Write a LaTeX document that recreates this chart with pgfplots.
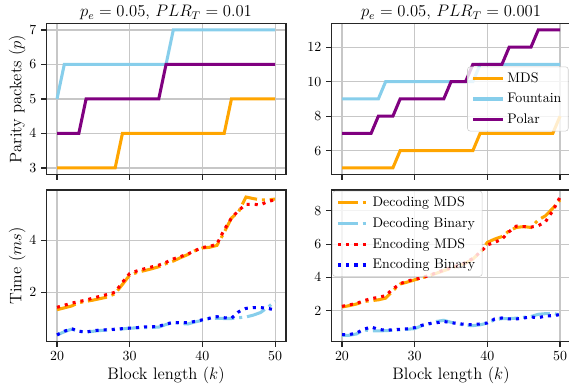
\documentclass[border=0pt]{standalone}
\usepackage{pgfplots}
\pgfplotsset{compat=1.18}
\definecolor{mdsorange}{RGB}{255,165,0}
\definecolor{skyblue}{RGB}{135,206,235}
\definecolor{mplpurple}{RGB}{128,0,128}
\definecolor{mplred}{RGB}{255,0,0}
\definecolor{mplblue}{RGB}{0,0,255}
\pgfplotsset{
  panel/.style={
    scale only axis, width=172.7pt,
    xmin=18.5, xmax=51.5, xtick={20,30,40,50},
    grid=major, grid style={black!22, line width=0.8pt},
    axis line style={black!85, line width=0.8pt},
    tick align=outside, major tick length=3.5pt,
    tick style={black!85, line width=0.8pt},
    tick pos=left,
    ticklabel style={font=\fontsize{10}{12}\selectfont},
    label style={font=\fontsize{12}{14}\selectfont},
    every axis title shift=0pt,
    title style={font=\fontsize{12}{14}\selectfont, at={(axis description cs:0.5,1.042)}, anchor=base, yshift=0pt},
    ylabel style={at={(axis description cs:-0.1031,0.5)}, anchor=base},
    xlabel style={at={(axis description cs:0.5,-0.2459)}, anchor=base},
    every axis plot/.append style={line width=2.2pt},
    legend cell align=left,
    legend style={draw=black!20, rounded corners=2pt, fill=white, fill opacity=0.8,
      text opacity=1, font=\fontsize{10}{12}\selectfont, row sep=2.5pt,
      inner xsep=3pt, inner ysep=2pt},
    legend image code/.code={\draw[#1] (0pt,0pt) -- (21.6pt,0pt);},
  },
  dashdot/.style={dash pattern=on 14pt off 3.5pt on 2.2pt off 3.5pt, line cap=butt},
  dotty/.style={dash pattern=on 2.2pt off 3.63pt, line cap=butt},
}
\begin{document}
\begin{tikzpicture}
% top-left
\begin{axis}[panel, height=109.3pt, at={(33.2pt,-16.6pt)}, anchor=north west,
  title={$p_e = 0.05$, $PLR_T = 0.01$}, ylabel={Parity packets ($p$)},
  xticklabels={}, ymin=2.8, ymax=7.2, ytick={3,4,5,6,7}]
\addplot[mdsorange] coordinates {(20,3)(28,3)(29,4)(43,4)(44,5)(50,5)};
\addplot[skyblue] coordinates {(20,5)(21,6)(35,6)(36,7)(50,7)};
\addplot[mplpurple] coordinates {(20,4)(23,4)(24,5)(34,5)(35,6)(50,6)};
\end{axis}
% top-right
\begin{axis}[panel, height=109.3pt, at={(238.4pt,-16.6pt)}, anchor=north west,
  title={$p_e = 0.05$, $PLR_T = 0.001$},
  xticklabels={}, ymin=4.6, ymax=13.4, ytick={6,8,10,12},
  legend style={at={(0.99,0.5)}, anchor=east}]
\addplot[mdsorange] coordinates {(20,5)(27,5)(28,6)(38,6)(39,7)(49,7)(50,8)};
\addplot[skyblue] coordinates {(20,9)(25,9)(26,10)(38,10)(39,11)(50,11)};
\addplot[mplpurple] coordinates {(20,7)(24,7)(25,8)(27,8)(28,9)(34,9)(35,10)(37,10)(38,11)(42,11)(43,12)(46,12)(47,13)(50,13)};
\legend{MDS,Fountain,Polar}
\end{axis}
% bottom-left
\begin{axis}[panel, height=109.4pt, at={(33.2pt,-136.8pt)}, anchor=north west,
  ylabel={Time ($ms$)}, xlabel={Block length ($k$)},
  ymin=0.09, ymax=5.93, ytick={2,4}]
\addplot[mdsorange, dashdot] coordinates {(20,1.33)(21,1.40)(22,1.47)(23,1.60)(24,1.65)(25,1.70)(26,1.76)(27,1.82)(28,1.95)(29,2.30)(30,2.66)(31,2.76)(32,2.83)(33,2.90)(34,2.98)(35,3.10)(36,3.20)(37,3.33)(38,3.45)(39,3.60)(40,3.70)(41,3.73)(42,3.80)(43,4.30)(44,4.85)(45,5.10)(46,5.66)(47,5.60)(48,5.55)(49,5.55)(50,5.58)};
\addplot[skyblue, dashdot] coordinates {(20,0.36)(21,0.48)(22,0.58)(23,0.50)(24,0.47)(25,0.50)(26,0.53)(27,0.55)(28,0.57)(29,0.59)(30,0.62)(31,0.63)(32,0.64)(33,0.65)(34,0.66)(35,0.76)(36,0.84)(37,0.80)(38,0.78)(39,0.86)(40,0.92)(41,1.00)(42,1.00)(43,0.99)(44,0.99)(45,1.02)(46,1.05)(47,1.12)(48,1.22)(49,1.42)(50,1.65)};
\addplot[mplred, dotty] coordinates {(20,1.42)(21,1.50)(22,1.58)(23,1.64)(24,1.70)(25,1.78)(26,1.85)(27,1.92)(28,2.00)(29,2.38)(30,2.72)(31,2.82)(32,2.90)(33,2.97)(34,3.04)(35,3.15)(36,3.28)(37,3.37)(38,3.47)(39,3.60)(40,3.72)(41,3.76)(42,3.85)(43,4.40)(44,4.85)(45,5.15)(46,5.38)(47,5.38)(48,5.36)(49,5.49)(50,5.55)};
\addplot[mplblue, dotty] coordinates {(20,0.36)(21,0.50)(22,0.60)(23,0.50)(24,0.47)(25,0.52)(26,0.55)(27,0.56)(28,0.58)(29,0.60)(30,0.62)(31,0.64)(32,0.67)(33,0.67)(34,0.69)(35,0.78)(36,0.84)(37,0.83)(38,0.83)(39,0.88)(40,0.94)(41,1.00)(42,1.06)(43,1.02)(44,1.00)(45,1.25)(46,1.38)(47,1.41)(48,1.41)(49,1.38)(50,1.32)};
\end{axis}
% bottom-right
\begin{axis}[panel, height=109.4pt, at={(238.4pt,-136.8pt)}, anchor=north west,
  xlabel={Block length ($k$)},
  ymin=0.12, ymax=9.25, ytick={2,4,6,8},
  legend style={at={(0.005,0.995)}, anchor=north west}]
\addplot[mdsorange, dashdot] coordinates {(20,2.22)(21,2.30)(22,2.40)(23,2.55)(24,2.60)(25,2.65)(26,2.75)(27,3.20)(28,3.60)(29,3.72)(30,3.85)(31,3.97)(32,4.10)(33,4.25)(34,4.40)(35,4.55)(36,4.70)(37,4.85)(38,5.10)(39,5.50)(40,6.10)(41,6.30)(42,6.45)(43,6.80)(44,7.00)(45,7.05)(46,7.00)(47,7.45)(48,7.70)(49,8.15)(50,8.65)};
\addplot[skyblue, dashdot] coordinates {(20,0.52)(21,0.52)(22,0.60)(23,0.85)(24,0.78)(25,0.78)(26,0.80)(27,0.82)(28,0.85)(29,0.88)(30,0.92)(31,1.10)(32,1.20)(33,1.35)(34,1.42)(35,1.30)(36,1.20)(37,1.12)(38,1.10)(39,1.15)(40,1.25)(41,1.45)(42,1.52)(43,1.52)(44,1.55)(45,1.60)(46,1.65)(47,1.78)(48,1.82)(49,1.83)(50,1.75)};
\addplot[mplred, dotty] coordinates {(20,2.26)(21,2.35)(22,2.43)(23,2.60)(24,2.72)(25,2.80)(26,2.90)(27,3.30)(28,3.62)(29,3.78)(30,3.88)(31,3.98)(32,4.12)(33,4.28)(34,4.44)(35,4.58)(36,4.72)(37,4.88)(38,5.14)(39,5.50)(40,5.95)(41,6.10)(42,6.30)(43,6.75)(44,7.08)(45,7.05)(46,7.02)(47,7.10)(48,7.35)(49,8.00)(50,8.82)};
\addplot[mplblue, dotty] coordinates {(20,0.56)(21,0.56)(22,0.66)(23,0.88)(24,1.02)(25,0.88)(26,0.82)(27,0.85)(28,0.88)(29,0.91)(30,0.98)(31,1.12)(32,1.22)(33,1.27)(34,1.35)(35,1.28)(36,1.22)(37,1.17)(38,1.16)(39,1.20)(40,1.26)(41,1.50)(42,1.56)(43,1.50)(44,1.50)(45,1.56)(46,1.62)(47,1.57)(48,1.68)(49,1.70)(50,1.76)};
\legend{Decoding MDS,Decoding Binary,Encoding MDS,Encoding Binary}
\end{axis}
\pgfresetboundingbox
\path (0pt,0pt) rectangle (409.7pt,-281.5pt);
\end{tikzpicture}
\end{document}
